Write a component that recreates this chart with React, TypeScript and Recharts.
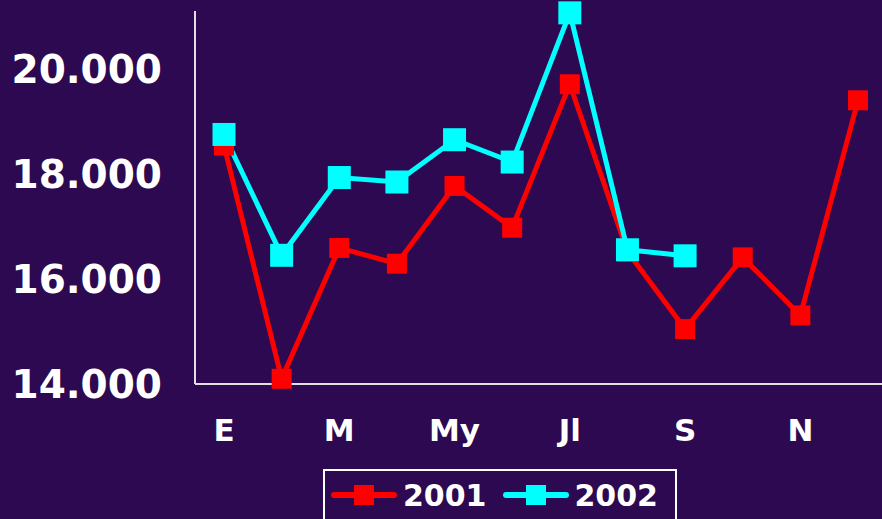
import React from "react";
import { LineChart, Line, XAxis, YAxis, Legend } from "recharts";

const months = ["E", "F", "M", "A", "My", "Jn", "Jl", "Ag", "S", "O", "N", "D"];
const sales2001 = [18540, 14100, 16590, 16290, 17770, 16975, 19705, 16520, 15045, 16410, 15305, 19400];
const sales2002 = [18750, 16450, 17930, 17845, 18650, 18225, 21065, 16555, 16440, null, null, null];
const yTicks = [14000, 16000, 18000, 20000];

const data = months.map((m, i) => ({ month: m, y2001: sales2001[i], y2002: sales2002[i] }));

const BG = "#2c0950";
const FONT = "'DejaVu Sans', Verdana, sans-serif";

const fmt = (v: number) => v.toLocaleString("de-DE");

function squareDot(size: number, color: string) {
  return (props: any) => {
    const { cx, cy, index } = props;
    if (cx == null || cy == null || props.value == null) return <g key={`d-${index}`} />;
    return (
      <rect
        key={`d-${index}`}
        x={cx - size / 2}
        y={cy - size / 2}
        width={size}
        height={size}
        fill={color}
      />
    );
  };
}

function LegendBox({ payload }: any) {
  return (
    <div
      style={{
        display: "flex",
        alignItems: "center",
        border: "2px solid #ffffff",
        height: 48,
        padding: "0 17px 0 6px",
        boxSizing: "content-box",
        fontFamily: FONT,
        fontWeight: "bold",
        fontSize: 30,
        color: "#ffffff",
      }}
    >
      {(payload || []).map((p: any, i: number) => (
        <div key={p.value} style={{ display: "flex", alignItems: "center", marginLeft: i ? 16 : 0 }}>
          <svg width={66} height={24} style={{ marginRight: 6 }}>
            <line x1={3} y1={12} x2={63} y2={12} stroke={p.color} strokeWidth={6} strokeLinecap="round" />
            <rect x={23} y={2} width={20} height={20} fill={p.color} />
          </svg>
          <span>{p.value}</span>
        </div>
      ))}
    </div>
  );
}

export default function App() {
  return (
    <div
      style={{
        position: "fixed",
        left: 0,
        top: 0,
        width: 882,
        height: 519,
        background: BG,
        overflow: "hidden",
      }}
    >
      <LineChart width={887} height={519} data={data} margin={{ top: 11, right: 0, bottom: 105, left: 0 }}>
        <XAxis
          dataKey="month"
          interval={1}
          padding={{ left: 29, right: 29 }}
          tickLine={false}
          tickSize={0}
          tickMargin={35}
          height={30}
          axisLine={{ stroke: "#e0e0e0", strokeWidth: 2 }}
          tick={{ fill: "#ffffff", fontSize: 31, fontWeight: "bold", fontFamily: FONT }}
        />
        <YAxis
          domain={[14000, 21100]}
          ticks={yTicks}
          width={195}
          tickLine={false}
          tickSize={0}
          tickMargin={33}
          tickFormatter={fmt}
          axisLine={{ stroke: "#e0e0e0", strokeWidth: 2 }}
          tick={{ fill: "#ffffff", fontSize: 39, fontWeight: "bold", fontFamily: FONT }}
        />
        <Legend
          layout="vertical"
          align="center"
          verticalAlign="middle"
          content={<LegendBox />}
          wrapperStyle={{ left: 323, top: 469, width: "auto", height: "auto" }}
        />
        <Line
          dataKey="y2001"
          name="2001"
          stroke="#ff0000"
          strokeWidth={5}
          dot={squareDot(20, "#ff0000")}
          activeDot={false}
          isAnimationActive={false}
        />
        <Line
          dataKey="y2002"
          name="2002"
          stroke="#00ffff"
          strokeWidth={5}
          dot={squareDot(23, "#00ffff")}
          activeDot={false}
          isAnimationActive={false}
        />
      </LineChart>
    </div>
  );
}
